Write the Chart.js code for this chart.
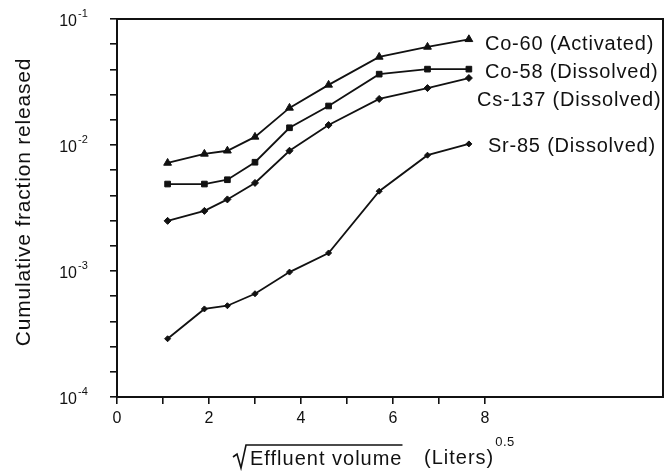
<!DOCTYPE html>
<html>
<head>
<meta charset="utf-8">
<script src="https://cdn.jsdelivr.net/npm/chart.js@4.4.1/dist/chart.umd.min.js"></script>
<style>
html,body{margin:0;padding:0;background:#fff;}
</style>
</head>
<body>
<canvas id="c" width="672" height="476"></canvas>
<script>
// x = sqrt of effluent volume, (liters)^0.5
const volume = [1.1, 1.9, 2.4, 3.0, 3.75, 4.6, 5.7, 6.75, 7.65];

// cumulative fraction released
const co60  = [0.0072, 0.0085, 0.0090, 0.0116, 0.0197, 0.030, 0.050, 0.060, 0.069];
const co58  = [0.0049, 0.0049, 0.0053, 0.0073, 0.0137, 0.0204, 0.0365, 0.040, 0.040];
const cs137 = [0.0025, 0.0030, 0.0037, 0.0050, 0.0090, 0.0144, 0.0232, 0.0283, 0.034];
const sr85  = [0.00029, 0.00050, 0.00053, 0.00066, 0.00098, 0.00139, 0.0043, 0.0083, 0.0102];

const seriesNames = ["Co-60 (Activated)", "Co-58 (Dissolved)", "Cs-137 (Dissolved)", "Sr-85 (Dissolved)"];
const xTicks = [0, 1, 2, 3, 4, 5, 6, 7, 8];
const yDecades = [-4, -3, -2, -1];
const yTickExps = [-4, -3.8, -3.6, -3.4, -3.2, -3, -2.8, -2.6, -2.4, -2.2, -2, -1.8, -1.6, -1.4, -1.2, -1];

const FONT = '"Liberation Sans", Arial, sans-serif';
const INK = "#111";

// label offsets from the last point of each series
const labelDx = [16, 16, 8, 19];
const labelDy = [5, 3, 22, 3];

const pts = ys => volume.map((v, i) => ({ x: v, y: ys[i] }));
const mk = (i, ys, style, r) => ({
  label: seriesNames[i], data: pts(ys),
  borderColor: INK, backgroundColor: INK, borderWidth: 1.8,
  pointStyle: style, pointRadius: r, pointBorderWidth: 1, tension: 0
});

const decor = {
  id: "decor",
  beforeDraw(chart){
    const c = chart.ctx;
    c.save(); c.fillStyle = "#fff"; c.fillRect(0, 0, chart.width, chart.height); c.restore();
  },
  afterDraw(chart){
    const { ctx, chartArea: a, scales: { y } } = chart;
    ctx.save();
    ctx.strokeStyle = INK; ctx.lineWidth = 2;
    ctx.strokeRect(a.left, a.top, a.right - a.left, a.bottom - a.top);
    ctx.fillStyle = INK;

    // y tick labels 10^n
    yDecades.forEach(e => {
      const py = y.getPixelForValue(Math.pow(10, e));
      ctx.font = "16px " + FONT; ctx.textAlign = "right"; ctx.textBaseline = "middle";
      ctx.fillText("10", 77, py + 3);
      ctx.font = "11px " + FONT; ctx.textAlign = "left";
      ctx.fillText(String(e), 78, py - 5);
    });

    // series labels
    ctx.letterSpacing = "0.8px";
    ctx.font = "20px " + FONT; ctx.textAlign = "left"; ctx.textBaseline = "middle";
    chart.data.datasets.forEach((ds, i) => {
      const d = chart.getDatasetMeta(i).data;
      const p = d[d.length - 1];
      ctx.fillText(ds.label, p.x + labelDx[i], p.y + labelDy[i]);
    });

    // y title
    ctx.save();
    ctx.letterSpacing = "0.8px";
    ctx.translate(24, 202); ctx.rotate(-Math.PI / 2);
    ctx.font = "21px " + FONT; ctx.textAlign = "center"; ctx.textBaseline = "middle";
    ctx.fillText("Cumulative fraction released", 0, 0);
    ctx.restore();

    // x title with radical sign
    ctx.letterSpacing = "1px";
    ctx.font = "20px " + FONT; ctx.textAlign = "left"; ctx.textBaseline = "alphabetic";
    const t1 = "Effluent volume";
    const w1 = ctx.measureText(t1).width;
    ctx.fillText(t1, 250, 465);
    ctx.lineWidth = 1.6;
    ctx.beginPath();
    ctx.moveTo(233, 457); ctx.lineTo(237, 454); ctx.lineTo(241, 468); ctx.lineTo(246, 445);
    ctx.lineTo(250 + w1, 445);
    ctx.stroke();
    const t2 = "(Liters)";
    ctx.fillText(t2, 424, 464);
    const w2 = ctx.measureText(t2).width;
    ctx.letterSpacing = "0.5px";
    ctx.font = "13px " + FONT;
    ctx.fillText("0.5", 424 + w2 + 1, 446);
    ctx.restore();
  }
};

new Chart(document.getElementById("c"), {
  type: "line",
  data: {
    datasets: [
      mk(0, co60, "triangle", 4.5),
      mk(1, co58, "rect", 4),
      mk(2, cs137, "rectRot", 3.5),
      mk(3, sr85, "rectRot", 3)
    ]
  },
  options: {
    responsive: false, animation: false,
    layout: { padding: { top: 19, right: 9, left: 0, bottom: 0 } },
    plugins: { legend: { display: false }, tooltip: { enabled: false } },
    scales: {
      x: {
        type: "linear", min: 0, max: 11.87,
        afterBuildTicks: s => { s.ticks = xTicks.map(v => ({ value: v })); },
        afterFit: s => { s.height = 79; },
        ticks: {
          autoSkip: false, maxRotation: 0, padding: 5, color: INK,
          font: { size: 16, family: FONT },
          callback: v => (v % 2 === 0 ? String(v) : "")
        },
        grid: { drawOnChartArea: false, tickLength: 7, color: INK, lineWidth: 1.6 },
        border: { display: false }
      },
      y: {
        type: "logarithmic", min: 1e-4, max: 1e-1,
        afterBuildTicks: s => { s.ticks = yTickExps.map(e => ({ value: Math.pow(10, e) })); },
        afterFit: s => { s.width = 117; },
        ticks: { display: false },
        grid: { drawOnChartArea: false, tickLength: 7, color: INK, lineWidth: 1.6 },
        border: { display: false }
      }
    }
  },
  plugins: [decor]
});
</script>
</body>
</html>
